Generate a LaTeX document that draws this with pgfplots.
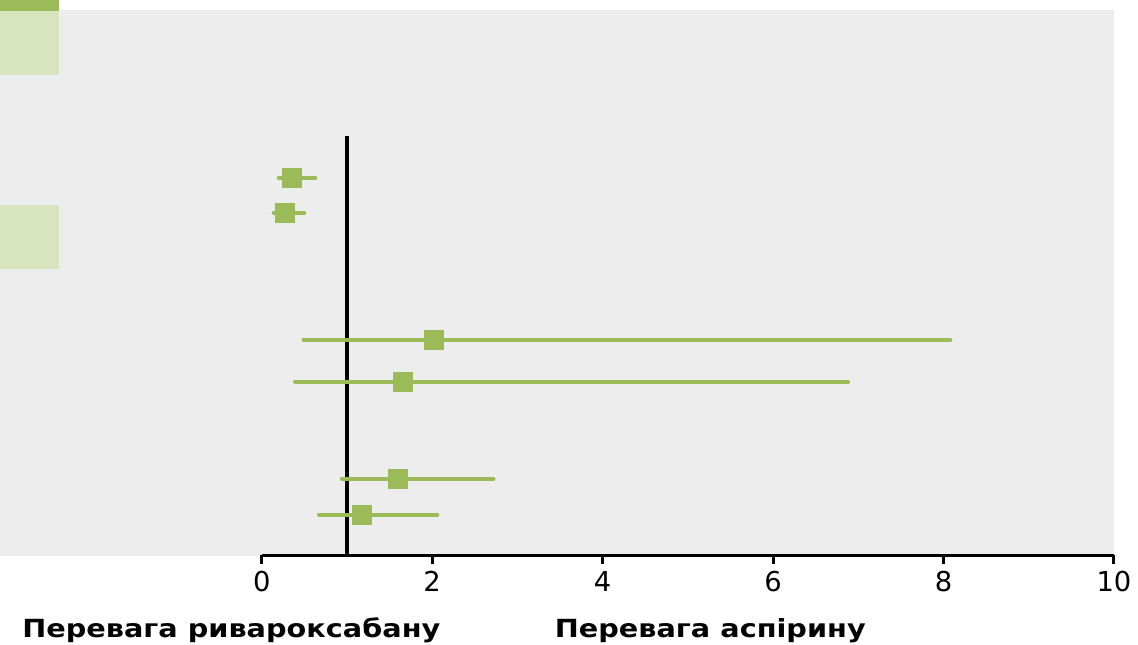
\documentclass[border=0pt]{standalone}
\usepackage{fontspec}
\setmainfont{DejaVu Sans}
\usepackage{pgfplots}
\pgfplotsset{compat=1.18}
\definecolor{grn}{RGB}{155,187,89}
\definecolor{lgrn}{RGB}{216,228,190}
\definecolor{bg}{RGB}{237,237,237}
\begin{document}
\begin{tikzpicture}
\begin{axis}[
  scale only axis, width=426.5pt, height=278pt,
  xmin=0, xmax=10, ymin=-556, ymax=0,
  axis x line*=bottom, axis y line=none,
  axis line style={line width=1.5pt, black},
  xtick={0,2,...,10}, ytick=\empty,
  major tick length=4.5pt, tick align=outside,
  tick style={line width=1.5pt, black},
  ticklabel style={font=\fontsize{13.7}{16}\selectfont},
  /pgf/number format/assume math mode=true,
  clip=false, axis on top,
]
\fill[bg] (axis cs:-3.0715,-10) rectangle (axis cs:10,-557);
\fill[grn] (axis cs:-3.0715,0) rectangle (axis cs:-2.380,-11);
\fill[lgrn] (axis cs:-3.0715,-11) rectangle (axis cs:-2.380,-75);
\fill[lgrn] (axis cs:-3.0715,-205) rectangle (axis cs:-2.380,-269);
\addplot[black, line width=1.75pt] coordinates {(1,-136) (1,-556)};
\addplot[only marks, mark=square*, mark size=4.8pt, color=grn, line width=2pt,
  mark options={draw=grn, fill=grn, line width=0.4pt},
  error bars/.cd, x dir=both, x explicit, error mark=none,
  error bar style={line width=2pt, grn, line cap=round}]
  table[x=x, y=y, x error plus=xp, x error minus=xm] {
  y     x      xp     xm
  -178  0.35   0.28   0.15
  -213  0.275  0.225  0.135
  -340  2.02   6.06   1.53
  -382  1.66   5.22   1.27
  -479  1.60   1.12   0.66
  -515  1.18   0.88   0.51
};
\node[anchor=base west, inner sep=0pt, font=\bfseries\fontsize{12.5}{14}\selectfont] at (axis cs:-2.814,-638) {\scalebox{1.15}[1]{Перевага ривароксабану}};
\node[anchor=base west, inner sep=0pt, font=\bfseries\fontsize{12.5}{14}\selectfont] at (axis cs:3.435,-638) {\scalebox{1.15}[1]{Перевага аспірину}};
\path (axis cs:-3.0715,0) rectangle (axis cs:10.270,-645);
\end{axis}
\end{tikzpicture}
\end{document}
